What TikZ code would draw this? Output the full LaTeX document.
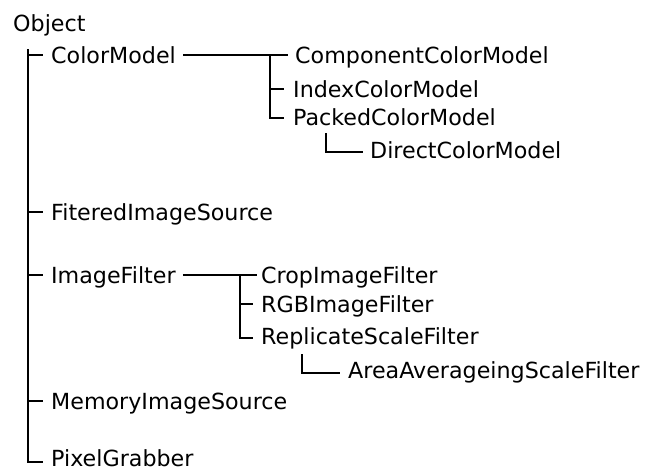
\documentclass[tikz,border=0pt]{standalone}
\usepackage{fontspec}
\setmainfont{DejaVu Sans}
\begin{document}
\begin{tikzpicture}[x=1pt,y=-1pt,
  lbl/.style={anchor=west,inner sep=0pt,text height=16.2pt,text depth=0pt,
    font=\fontsize{22.2pt}{26pt}\selectfont},
  conn/.style={line width=1.4pt,draw=black}]
\useasboundingbox (0,0) rectangle (647,471);
\node[lbl] (obj) at (13,23) {Object};
\node[lbl] (cm) at (51,55) {ColorModel};
\node[lbl] (ccm) at (295,55) {ComponentColorModel};
\node[lbl] (icm) at (293,89) {IndexColorModel};
\node[lbl] (pcm) at (293,117) {PackedColorModel};
\node[lbl] (dcm) at (370,150) {DirectColorModel};
\node[lbl] (fis) at (51,212) {FiteredImageSource};
\node[lbl] (imf) at (51,275) {ImageFilter};
\node[lbl] (cif) at (261,275) {CropImageFilter};
\node[lbl] (rgb) at (261,304) {RGBImageFilter};
\node[lbl] (rsf) at (261,336) {ReplicateScaleFilter};
\node[lbl] (aasf) at (348,370) {AreaAverageingScaleFilter};
\node[lbl] (mis) at (51,401) {MemoryImageSource};
\node[lbl] (pg) at (51,458) {PixelGrabber};
% trunk
\coordinate (trunk) at ([xshift=15pt,yshift=-18pt]obj.south west);
\draw[conn] (trunk) |- ([xshift=-8pt,yshift=-4pt]pg.west);
\foreach \n in {cm,fis,imf,mis} \draw[conn] (trunk |- \n.west) -- ([xshift=-8pt]\n.west);
% ColorModel subtree
\draw[conn] ([xshift=7pt]cm.east) -- ([xshift=-7pt]ccm.west);
\coordinate (cmv) at ([xshift=-25pt]ccm.west);
\draw[conn] (cmv) |- ([xshift=-9pt,yshift=-1pt]pcm.west);
\draw[conn] (cmv |- icm.west) -- ([xshift=-9pt]icm.west);
\draw[conn] ([xshift=33pt,yshift=-8pt]pcm.south west) |- ([xshift=-7pt,yshift=-2pt]dcm.west);
% ImageFilter subtree
\draw[conn] ([xshift=7pt]imf.east) -- ([xshift=-4pt]cif.west);
\coordinate (ifv) at ([xshift=-21pt]cif.west);
\draw[conn] (ifv) |- ([xshift=-8pt,yshift=-2pt]rsf.west);
\draw[conn] (ifv |- rgb.west) -- ([xshift=-8pt]rgb.west);
\draw[conn] ([xshift=41pt,yshift=-10pt]rsf.south west) |- ([xshift=-8pt,yshift=-3pt]aasf.west);
\end{tikzpicture}
\end{document}
